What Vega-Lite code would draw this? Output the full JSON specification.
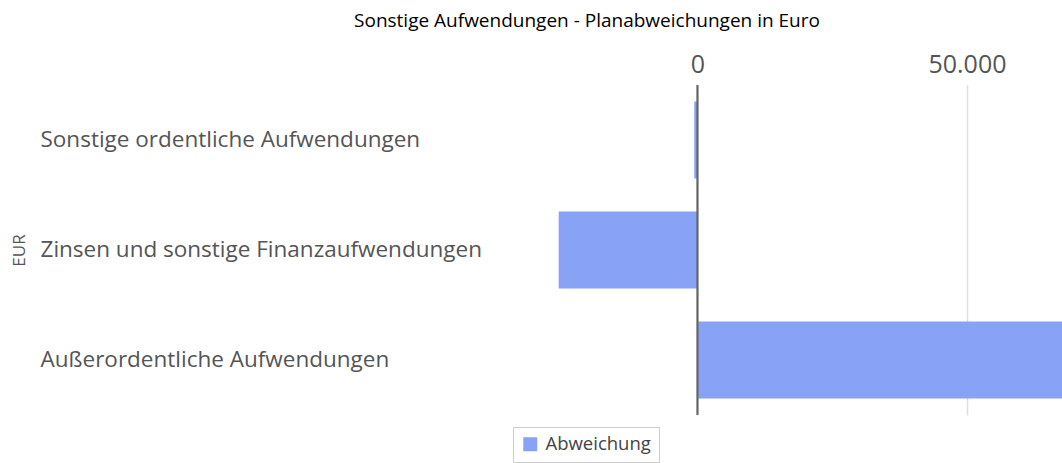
{
  "$schema": "https://vega.github.io/schema/vega-lite/v6.json",
  "autosize": {"type": "none"},
  "width": 562,
  "height": 330,
  "padding": {"left": 500, "top": 85, "right": 0, "bottom": 48},
  "background": "white",
  "title": {
    "text": "Sonstige Aufwendungen - Planabweichungen in Euro",
    "font": "Open Sans",
    "fontSize": 19,
    "fontWeight": "normal",
    "color": "#000000",
    "anchor": "middle",
    "dx": -194,
    "offset": 21
  },
  "config": {
    "view": {"stroke": null},
    "locale": {"number": {"decimal": ",", "thousands": ".", "grouping": [3], "currency": ["", " €"]}}
  },
  "data": {
    "values": [
      {"kategorie": "Sonstige ordentliche Aufwendungen", "serie": "Abweichung", "wert": -600},
      {"kategorie": "Zinsen und sonstige Finanzaufwendungen", "serie": "Abweichung", "wert": -25750},
      {"kategorie": "Außerordentliche Aufwendungen", "serie": "Abweichung", "wert": 72000}
    ]
  },
  "layer": [
    {
      "mark": {"type": "bar", "clip": true},
      "encoding": {
        "y": {
          "field": "kategorie",
          "type": "nominal",
          "sort": null,
          "scale": {"paddingInner": 0.3, "paddingOuter": 0.15},
          "axis": {
            "orient": "left",
            "title": "EUR",
            "titleFont": "Open Sans",
            "titleFontSize": 17,
            "titleFontWeight": "normal",
            "titleColor": "#555555",
            "titleX": -481,
            "titleY": 165,
            "titleAngle": -90,
            "titleAlign": "center",
            "titleBaseline": "middle",
            "labelAlign": "left",
            "labelBaseline": "middle",
            "labelPadding": 460,
            "labelLimit": 520,
            "labelFont": "Open Sans",
            "labelFontSize": 22.5,
            "labelColor": "#555555",
            "ticks": false,
            "tickSize": 0,
            "domain": false,
            "grid": false
          }
        },
        "x": {
          "field": "wert",
          "type": "quantitative",
          "scale": {"domain": [-36640, 67630], "nice": false, "zero": false},
          "axis": {
            "orient": "top",
            "title": null,
            "values": [0, 50000],
            "format": ",d",
            "labelFont": "Open Sans",
            "labelFontSize": 25,
            "labelColor": "#555555",
            "labelPadding": 8,
            "ticks": false,
            "tickSize": 0,
            "domain": false,
            "grid": true,
            "gridColor": "#dddddd",
            "gridWidth": 1.5
          }
        },
        "color": {
          "field": "serie",
          "type": "nominal",
          "scale": {"range": ["#88a2f6"]},
          "legend": {
            "orient": "none",
            "legendX": 13,
            "legendY": 342,
            "title": null,
            "padding": 8,
            "strokeColor": "#cccccc",
            "symbolType": "square",
            "symbolSize": 196,
            "symbolStrokeWidth": 0,
            "labelFont": "Open Sans",
            "labelFontSize": 18.5,
            "labelColor": "#444444",
            "labelOffset": 6
          }
        }
      }
    },
    {
      "mark": {"type": "rule", "color": "#666666", "strokeWidth": 1.5},
      "encoding": {"x": {"datum": 0}}
    }
  ]
}
